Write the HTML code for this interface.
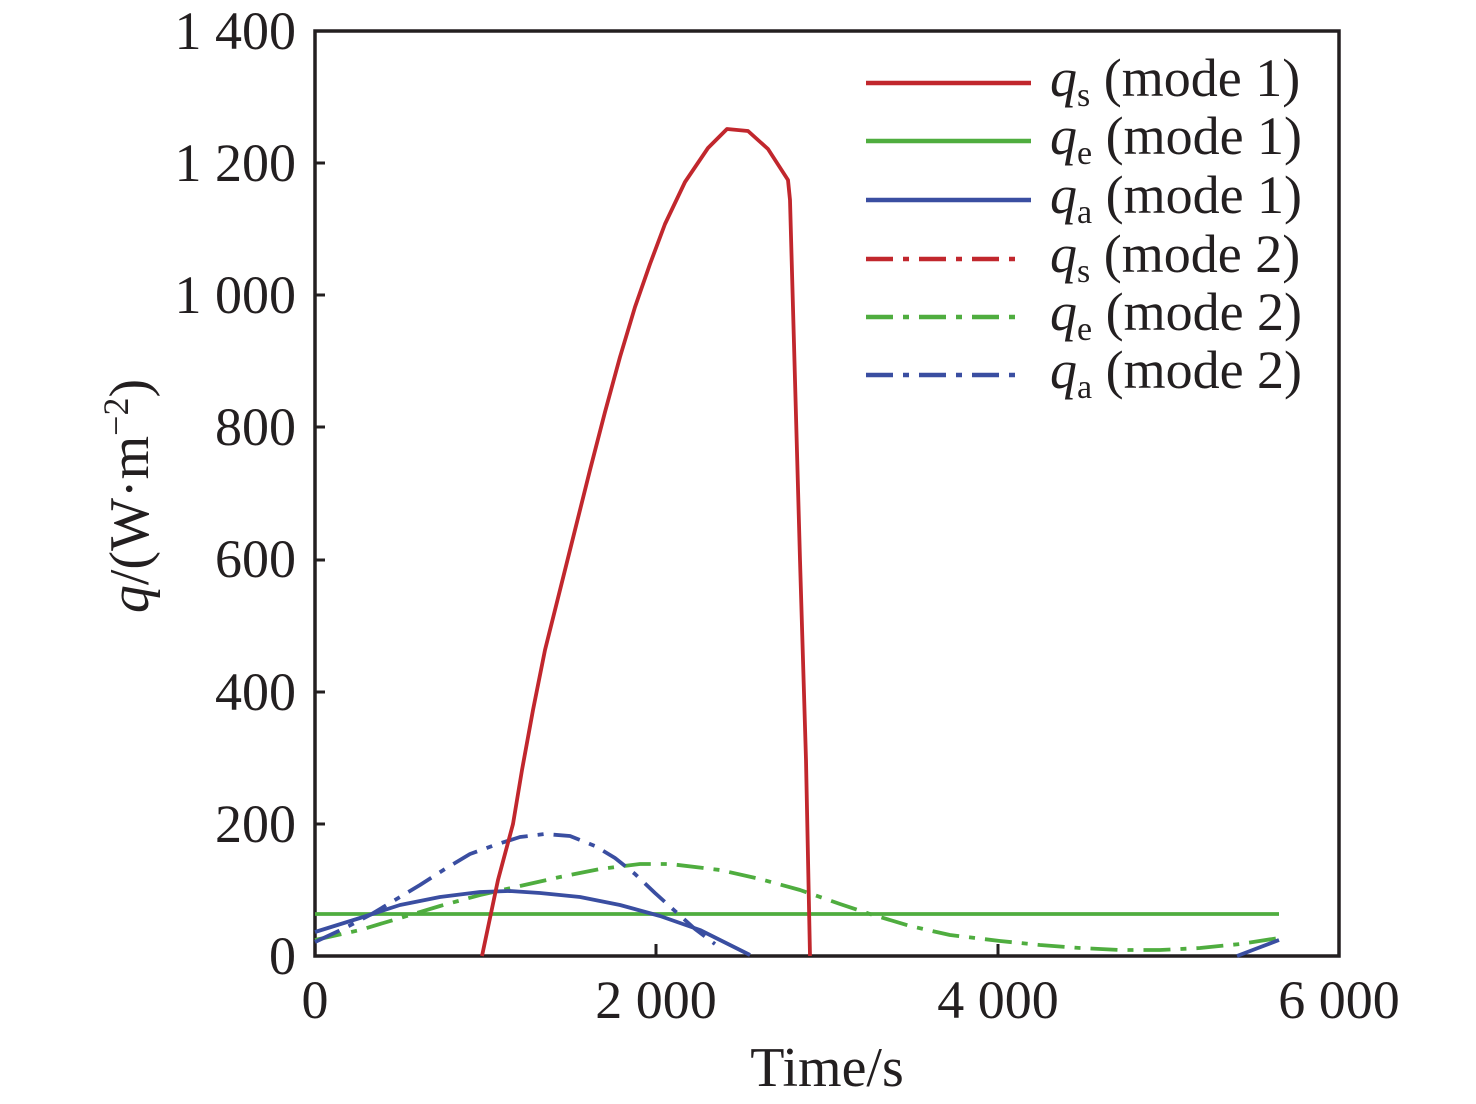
<!DOCTYPE html>
<html><head><meta charset="utf-8"><style>
html,body{margin:0;padding:0;background:#fff}
svg{display:block}
text{font-family:"Liberation Serif",serif;fill:#231f20}
</style></head><body>
<svg width="1476" height="1104" viewBox="0 0 1476 1104" xmlns="http://www.w3.org/2000/svg">
<g font-size="54" text-anchor="end">
<text x="296" y="974">0</text>
<text x="296" y="842">200</text>
<text x="296" y="710">400</text>
<text x="296" y="577">600</text>
<text x="296" y="445">800</text>
<text x="296" y="313">1 000</text>
<text x="296" y="181">1 200</text>
<text x="296" y="49">1 400</text>
</g>
<g font-size="54" text-anchor="middle">
<text x="315" y="1018">0</text>
<text x="656" y="1018">2 000</text>
<text x="998" y="1018">4 000</text>
<text x="1339" y="1018">6 000</text>
<text x="827" y="1086" font-size="56">Time/s</text>
</g>
<text transform="translate(148,496) rotate(-90)" font-size="56" text-anchor="middle"><tspan font-style="italic">q</tspan>/(W·m<tspan font-size="36" dy="-20">−2</tspan><tspan dy="20">)</tspan></text>
<g stroke="#231f20" stroke-width="3">
<line x1="315" y1="824" x2="325" y2="824"/><line x1="315" y1="692" x2="325" y2="692"/>
<line x1="315" y1="560" x2="325" y2="560"/><line x1="315" y1="427" x2="325" y2="427"/>
<line x1="315" y1="295" x2="325" y2="295"/><line x1="315" y1="163" x2="325" y2="163"/>
<line x1="656" y1="956" x2="656" y2="944"/><line x1="998" y1="956" x2="998" y2="944"/>
</g>
<rect x="315" y="31" width="1024" height="925" fill="none" stroke="#231f20" stroke-width="3.5"/>
<g fill="none" stroke-width="3.8" stroke-linejoin="round">
<line x1="315" y1="914" x2="1279" y2="914" stroke="#4fad3f"/>
<polyline stroke="#4fad3f" stroke-dasharray="27 10 6 10" points="315,940 360,930 400,918 440,906 480,895 520,886 560,877 600,869 640,864 670,864 720,870 760,879 800,890 840,904 870,914 910,926 950,935 1000,941 1040,945 1080,948 1120,950 1160,950 1200,948 1240,944 1279,938"/>
<polyline stroke="#3a4ea1" points="315,932 360,918 400,905 440,897 480,892 510,891 540,893 580,897 620,905 660,916 700,930 730,945 750,955"/>
<polyline stroke="#3a4ea1" stroke-dasharray="27 10 6 10" points="315,942 345,928 370,915 395,900 420,885 445,869 470,854 495,845 520,837 545,834 570,836 595,846 615,858 635,874 655,893 675,911 695,929 715,944"/>
<polyline stroke="#3a4ea1" points="1237,956 1258,948 1279,940"/>
<polyline stroke="#c1272d" points="482,956 498,880 513,824 522,770 533,710 545,650 560,590 575,530 590,470 605,412 620,357 635,307 650,264 665,224 685,182 708,148 727,129 748,131 768,149 788,180 790,200 800,560 806,760 810,956"/>
</g>
<g stroke-width="4.5" fill="none">
<line x1="866" y1="83" x2="1031" y2="83" stroke="#c1272d"/>
<line x1="866" y1="141" x2="1031" y2="141" stroke="#4fad3f"/>
<line x1="866" y1="200" x2="1031" y2="200" stroke="#3a4ea1"/>
<line x1="866" y1="259" x2="1022" y2="259" stroke="#c1272d" stroke-dasharray="27 10 6 10"/>
<line x1="866" y1="317" x2="1022" y2="317" stroke="#4fad3f" stroke-dasharray="27 10 6 10"/>
<line x1="866" y1="375" x2="1022" y2="375" stroke="#3a4ea1" stroke-dasharray="27 10 6 10"/>
</g>
<g font-size="54">
<text x="1050" y="96"><tspan font-style="italic">q</tspan><tspan font-size="34" dy="10">s</tspan><tspan dy="-10"> (mode 1)</tspan></text>
<text x="1050" y="154"><tspan font-style="italic">q</tspan><tspan font-size="34" dy="10">e</tspan><tspan dy="-10"> (mode 1)</tspan></text>
<text x="1050" y="213"><tspan font-style="italic">q</tspan><tspan font-size="34" dy="10">a</tspan><tspan dy="-10"> (mode 1)</tspan></text>
<text x="1050" y="272"><tspan font-style="italic">q</tspan><tspan font-size="34" dy="10">s</tspan><tspan dy="-10"> (mode 2)</tspan></text>
<text x="1050" y="330"><tspan font-style="italic">q</tspan><tspan font-size="34" dy="10">e</tspan><tspan dy="-10"> (mode 2)</tspan></text>
<text x="1050" y="388"><tspan font-style="italic">q</tspan><tspan font-size="34" dy="10">a</tspan><tspan dy="-10"> (mode 2)</tspan></text>
</g>
</svg>
</body></html>
